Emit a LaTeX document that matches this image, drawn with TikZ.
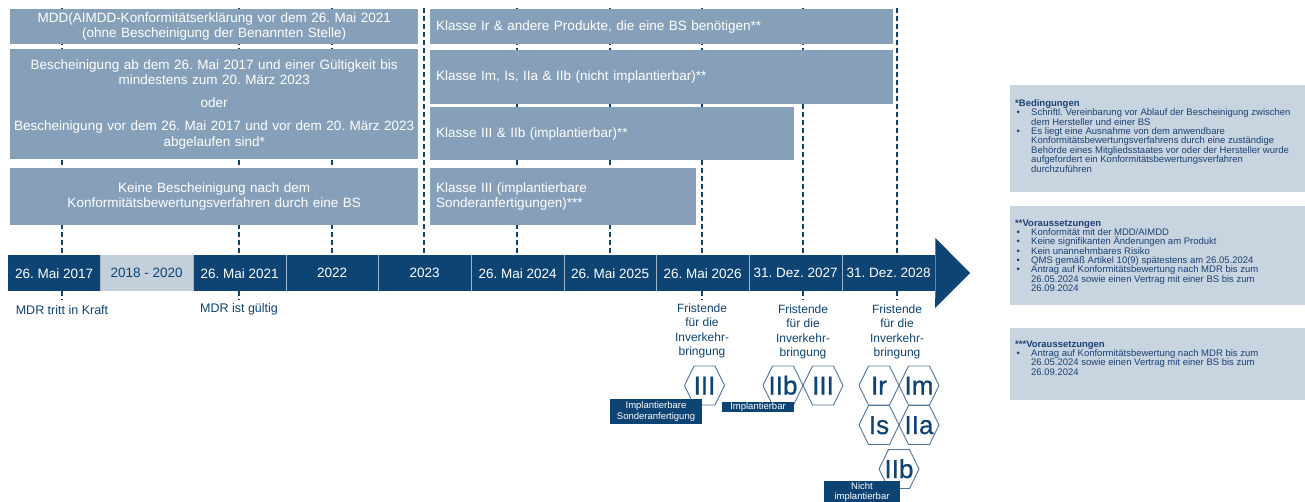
\documentclass[tikz,border=0pt]{standalone}
\usepackage{fontspec}
\setmainfont{Liberation Sans}
\newfontfamily\hexfont[FakeBold=0.8]{Liberation Sans}
\usetikzlibrary{calc}
\frenchspacing
\definecolor{boxc}{RGB}{135,160,186}
\definecolor{darkc}{RGB}{14,68,116}
\definecolor{lightc}{RGB}{196,207,220}
\definecolor{notec}{RGB}{201,212,225}
\definecolor{notetext}{RGB}{25,65,115}
\definecolor{hexc}{RGB}{80,115,160}
\definecolor{sepc}{RGB}{160,180,203}
\newcommand\bt{\makebox[16pt][l]{\hspace{1.5pt}•}}
\newcommand\ind{\hspace*{16pt}}
\newcommand\hexnode[3]{%
  \node[hexlbl] (#1) at (#2) {#3};
  \draw[hexline] (#1.center) ++(-20,0) -- ++(9.5,-19.5) -- ++(21,0) -- ++(9.5,19.5) -- ++(-9.5,19.5) -- ++(-21,0) -- cycle;
}
\begin{document}
\begin{tikzpicture}[x=1pt,y=-1pt,
  box/.style={fill=boxc, text=white, inner sep=0pt, anchor=north west, font=\fontsize{13.5}{15.5}\selectfont},
  cbox/.style={box, align=center},
  lbox/.style={box, align=left},
  seg/.style={fill=darkc, text=white, inner sep=0pt, anchor=north west, minimum height=36pt, font=\fontsize{13.5}{15}\selectfont},
  lseg/.style={seg, fill=lightc, text=darkc},
  dashln/.style={draw=darkc, line width=1.3pt, dash pattern=on 4.5pt off 3.5pt},
  frist/.style={text=darkc, align=center, inner sep=0pt, font=\fontsize{12}{14.3}\selectfont},
  milestone/.style={text=darkc, inner sep=0pt, font=\fontsize{12.5}{14}\selectfont},
  hexlbl/.style={text=darkc, inner sep=0pt, text height=18pt, text depth=0pt, font=\hexfont\fontsize{26}{26}\selectfont},
  hexline/.style={draw=hexc, line width=0.9pt},
  labbox/.style={fill=darkc, text=white, align=center, inner sep=0pt, font=\fontsize{9.5}{10.5}\selectfont},
  notebg/.style={fill=notec, inner sep=0pt, anchor=north west, minimum width=295pt},
  notetxt/.style={text=notetext, align=left, inner sep=0pt, anchor=north west, font=\fontsize{9.5}{9.35}\selectfont}
]
\useasboundingbox (0,0) rectangle (1305,501);
\fill[white] (0,0) rectangle (1305,501);

% dashed guide lines
\foreach \x in {62,239,332,424,517,610,702,803,897}
  \draw[dashln] (\x,8) -- (\x,255);
\foreach \x in {62,239,702,803,897}
  \draw[dashln] (\x,291) -- (\x,300);

% left boxes
\node[cbox, minimum width=408pt, minimum height=35pt, text width=406pt] (l1) at (10,9)
  {MDD(AIMDD-Konformitätserklärung vor dem 26. Mai 2021\\(ohne Bescheinigung der Benannten Stelle)};
\node[cbox, minimum width=408pt, minimum height=110pt, text width=406pt] (l2) at (10,49)
  {Bescheinigung ab dem 26. Mai 2017 und einer Gültigkeit bis\\mindestens zum 20. März 2023\\[7.5pt]oder\\[7.5pt]Bescheinigung vor dem 26. Mai 2017 und vor dem 20. März 2023\\abgelaufen sind*};
\node[cbox, minimum width=408pt, minimum height=57pt, text width=406pt] (l3) at (10,168)
  {Keine Bescheinigung nach dem\\Konformitätsbewertungsverfahren durch eine BS};

% right boxes
\node[lbox, minimum width=463pt, minimum height=35pt, text width=451pt] (r1) at (430,9)
  {Klasse Ir \& andere Produkte, die eine BS benötigen**};
\node[lbox, minimum width=463pt, minimum height=54pt, text width=451pt] (r2) at (430,50)
  {Klasse Im, Is, IIa \& IIb (nicht implantierbar)**};
\node[lbox, minimum width=364pt, minimum height=53pt, text width=352pt] (r3) at (430,107)
  {Klasse III \& IIb (implantierbar)**};
\node[lbox, minimum width=266pt, minimum height=57pt, text width=254pt] (r4) at (430,168)
  {Klasse III (implantierbare\\Sonderanfertigungen)***};

% timeline
\node[seg, minimum width=92pt] (t1) at (8,255) {26. Mai 2017};
\node[lseg, minimum width=93pt] (t2) at (100,255) {2018 - 2020};
\node[seg, minimum width=93pt] (t3) at (193,255) {26. Mai 2021};
\node[seg, minimum width=92pt] (t4) at (286,255) {2022};
\node[seg, minimum width=93pt] (t5) at (378,255) {2023};
\node[seg, minimum width=93pt] (t6) at (471,255) {26. Mai 2024};
\node[seg, minimum width=92pt] (t7) at (564,255) {26. Mai 2025};
\node[seg, minimum width=93pt] (t8) at (656,255) {26. Mai 2026};
\node[seg, minimum width=93pt] (t9) at (749,255) {31. Dez. 2027};
\node[seg, minimum width=93pt] (t10) at (842,255) {31. Dez. 2028};
\fill[darkc] (t10.north east) ++(0,-17) -- (970,273) -- (935,308) -- (t10.south east) -- (t10.north east) -- cycle;
\foreach \n in {t1,t2,t3,t4,t5,t6,t7,t8,t9}
  \draw[sepc, line width=0.8pt] (\n.north east) -- (\n.south east);

% labels below
\node[milestone] (k1) at (62,310) {MDR tritt in Kraft};
\node[milestone] (k2) at (239,309) {MDR ist gültig};
\node[frist] (f1) at (702,331) {Fristende\\für die\\Inverkehr-\\bringung};
\node[frist] (f2) at (803,332) {Fristende\\für die\\Inverkehr-\\bringung};
\node[frist] (f3) at (897,332) {Fristende\\für die\\Inverkehr-\\bringung};

% hexagons
\hexnode{h1}{704.5,385.5}{III}
\hexnode{h2}{783,385.5}{IIb}
\hexnode{h3}{823,385.5}{III}
\hexnode{h4}{879,385.5}{Ir}
\hexnode{h5}{919,385.5}{Im}
\hexnode{h6}{879,425}{Is}
\hexnode{h7}{919,425}{IIa}
\hexnode{h8}{899,469}{IIb}

% label boxes
\node[labbox, minimum width=92pt, minimum height=25pt] (b1) at (656,411.5) {Implantierbare\\Sonderanfertigung};
\node[labbox, minimum width=72pt, minimum height=10.5pt, text height=7pt, text depth=2pt] (b2) at (758,407) {Implantierbar};
\node[labbox, minimum width=76pt, anchor=north, minimum height=22pt] (b3) at (862,481) {Nicht\\implantierbar};

% notes
\node[notebg, minimum height=107pt] (n1) at (1010,85) {};
\node[notetxt] (n1t) at (1015,99.5) {\textbf{*Bedingungen}\\
\bt Schriftl. Vereinbarung vor Ablauf der Bescheinigung zwischen\\
\ind dem Hersteller und einer BS\\
\bt Es liegt eine Ausnahme von dem anwendbare\\
\ind Konformitätsbewertungsverfahrens durch eine zuständige\\
\ind Behörde eines Mitgliedsstaates vor oder der Hersteller wurde\\
\ind aufgefordert ein Konformitätsbewertungsverfahren\\
\ind durchzuführen};

\node[notebg, minimum height=99pt] (n2) at (1010,206) {};
\node[notetxt] (n2t) at (1015,219.5) {\textbf{**Voraussetzungen}\\
\bt Konformität mit der MDD/AIMDD\\
\bt Keine signifikanten Änderungen am Produkt\\
\bt Kein unannehmbares Risiko\\
\bt QMS gemäß Artikel 10(9) spätestens am 26.05.2024\\
\bt Antrag auf Konformitätsbewertung nach MDR bis zum\\
\ind 26.05.2024 sowie einen Vertrag mit einer BS bis zum\\
\ind 26.09.2024};

\node[notebg, minimum height=72pt] (n3) at (1010,328) {};
\node[notetxt] (n3t) at (1015,340.5) {\textbf{***Voraussetzungen}\\
\bt Antrag auf Konformitätsbewertung nach MDR bis zum\\
\ind 26.05.2024 sowie einen Vertrag mit einer BS bis zum\\
\ind 26.09.2024};
\end{tikzpicture}
\end{document}
